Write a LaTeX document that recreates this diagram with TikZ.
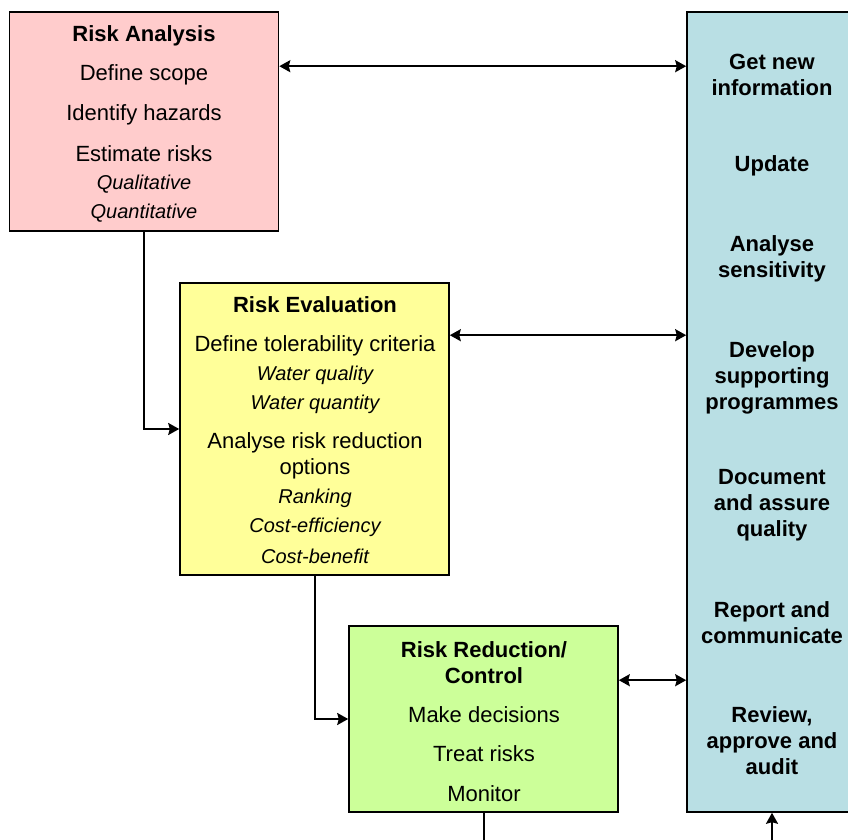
\documentclass[tikz,border=0pt]{standalone}
\usepackage{fontspec}
\setmainfont{Liberation Sans}
\usetikzlibrary{arrows.meta, positioning}
\definecolor{analysisred}{HTML}{FFCCCC}
\definecolor{evalyellow}{HTML}{FFFF99}
\definecolor{controlgreen}{HTML}{CCFF99}
\definecolor{supportblue}{HTML}{B9DFE4}

\begin{document}
\begin{tikzpicture}[
  x=0.5pt, y=-0.5pt,
  >={Stealth[length=5.5pt, width=6pt, inset=0.8pt]},
  every node/.style={inner sep=0pt},
  stage/.style={rectangle, draw=black, line width=0.8pt, minimum width=134.5pt},
  head/.style={font=\bfseries\fontsize{11}{13}\selectfont, align=center},
  item/.style={font=\fontsize{11}{13}\selectfont},
  sub/.style={font=\itshape\fontsize{10}{12}\selectfont},
  task/.style={font=\bfseries\fontsize{11}{13}\selectfont, align=center},
  link/.style={line width=1pt}
]
\useasboundingbox (0,0) rectangle (848,840);
\clip (0,0) rectangle (848,840);

% Stages
\node[stage, fill=analysisred, minimum height=109.5pt] (ra) at (144,121.5) {};
\node[stage, fill=evalyellow, minimum height=146pt] (re) at (314.5,429) {};
\node[stage, fill=controlgreen, minimum height=93pt] (rc) at (483.5,719) {};
\node[stage, fill=supportblue, minimum width=85pt, minimum height=400pt] (feed) at (772,412) {};

% Risk Analysis
\node[head] (ra_head) at (144,36) {Risk Analysis};
\node[item] (ra_scope) at (144,75) {Define scope};
\node[item] (ra_hazard) at (144,115) {Identify hazards};
\node[item] (ra_est) at (144,154) {Estimate risks};
\node[sub] (ra_qual) at (144,184) {Qualitative};
\node[sub] (ra_quant) at (144,213) {Quantitative};

% Risk Evaluation
\node[head] (re_head) at (315,305) {Risk Evaluation};
\node[item] (re_crit) at (315,346) {Define tolerability criteria};
\node[sub] (re_wql) at (315,375) {Water quality};
\node[sub] (re_wqn) at (315,404) {Water quantity};
\node[item, align=center] (re_opt) at (315,456) {Analyse risk reduction\\options};
\node[sub] (re_rank) at (315,498) {Ranking};
\node[sub] (re_eff) at (315,527) {Cost-efficiency};
\node[sub] (re_ben) at (315,556) {Cost-benefit};

% Risk Reduction / Control
\node[head] (rc_head) at (484,663) {Risk Reduction/\\Control};
\node[item] (rc_dec) at (484,715) {Make decisions};
\node[item] (rc_treat) at (484,754) {Treat risks};
\node[item] (rc_mon) at (484,794) {Monitor};

% Supporting tasks
\node[task] (t_info) at (772,74.5) {Get new\\information};
\node[task] (t_upd) at (772,166) {Update};
\node[task] (t_sens) at (772,258.5) {Analyse\\sensitivity};
\node[task] (t_prog) at (772,378) {Develop\\supporting\\programmes};
\node[task] (t_doc) at (772,505) {Document\\and assure\\quality};
\node[task] (t_rep) at (772,622.5) {Report and\\communicate};
\node[task] (t_rev) at (772,741) {Review,\\approve and\\audit};

% Connections
\draw[link, <->] ([yshift=-27.5pt]ra.north east) -- ([yshift=-27.5pt]ra.north east -| feed.west);
\draw[link, <->] ([yshift=-26.5pt]re.north east) -- ([yshift=-26.5pt]re.north east -| feed.west);
\draw[link, <->] ([yshift=-27.5pt]rc.north east) -- ([yshift=-27.5pt]rc.north east -| feed.west);
\draw[link, ->] (ra.south) |- (re.west);
\draw[link, ->] (re.south) |- (rc.west);

\coordinate[below=14pt of rc.south] (loop_out);
\coordinate[below=14pt of feed.south] (loop_in);
\draw[link] (rc.south) -- (loop_out);
\draw[link, ->] (loop_in) -- (feed.south);

\end{tikzpicture}
\end{document}
